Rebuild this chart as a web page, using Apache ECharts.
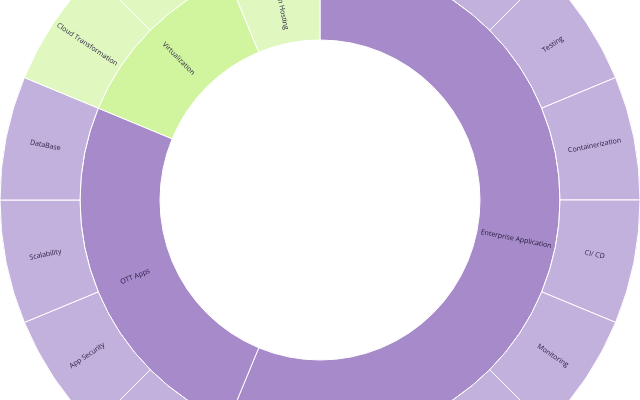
<!DOCTYPE html>
<html>
<head>
<meta charset="utf-8">
<style>
  html, body { margin: 0; padding: 0; background: #fff; }
  #chart { width: 640px; height: 400px; }
</style>
<script src="https://cdn.jsdelivr.net/npm/echarts@6/dist/echarts.min.js"></script>
</head>
<body>
<div id="chart"></div>
<script>
// inner ring
var groupNames = ['Enterprise Application', 'OTT Apps', 'Virtualization', 'Domain Hosting'];
var groupValues = [9, 4, 2, 1];
// outer ring, per group
var leafNames = [
  ['Microservices', 'DevOps', 'Testing', 'Containerization', 'CI/ CD', 'Monitoring', 'Cloud Native', 'Integration', 'Migration'],
  ['Streaming', 'App Security', 'Scalability', 'DataBase'],
  ['Cloud Transformation', 'Storage'],
  []
];
var leafValues = [
  [1, 1, 1, 1, 1, 1, 1, 1, 1],
  [1, 1, 1, 1],
  [1, 1],
  []
];

var groupColors = ['#a68aca', '#a68aca', '#d0f59e', '#e0f8c0'];
var leafColors = ['#c3b1dd', '#c3b1dd', '#e0f8c0', '#e0f8c0'];

var data = groupNames.map(function (name, i) {
  var node = {
    name: name,
    itemStyle: { color: groupColors[i] },
    children: leafNames[i].map(function (leaf, j) {
      return { name: leaf, value: leafValues[i][j], itemStyle: { color: leafColors[i] } };
    })
  };
  if (!node.children.length) {
    node.value = groupValues[i];
    delete node.children;
  }
  return node;
});

var myChart = echarts.init(document.getElementById('chart'));
myChart.setOption({
  animation: false,
  series: [{
    type: 'sunburst',
    center: ['50%', '50%'],
    radius: ['80%', '160%'],
    sort: null,
    nodeClick: false,
    data: data,
    itemStyle: {
      borderColor: '#ffffff',
      borderWidth: 1
    },
    label: {
      rotate: 'radial',
      fontFamily: 'Open Sans',
      fontSize: 7,
      color: '#231a3a'
    },
    emphasis: { disabled: true }
  }]
});
</script>
</body>
</html>
